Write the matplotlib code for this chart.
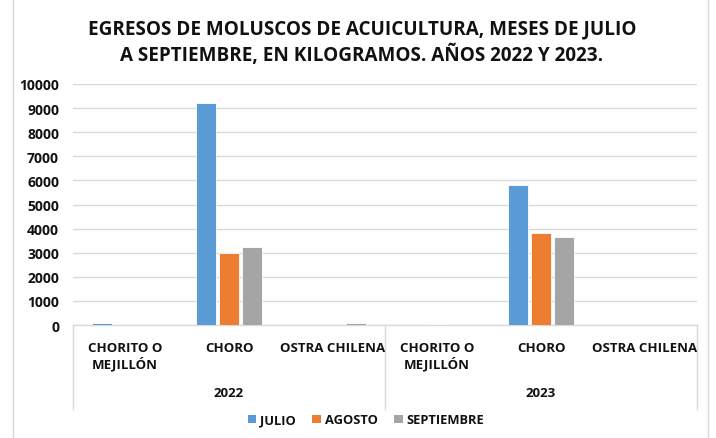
import matplotlib
matplotlib.use("Agg")
import matplotlib.pyplot as plt
import matplotlib.transforms as mtransforms
from matplotlib.patches import Patch
import numpy as np

plt.rcParams['font.family'] = ['Open Sans', 'DejaVu Sans']

title = "EGRESOS DE MOLUSCOS DE ACUICULTURA, MESES DE JULIO\nA SEPTIEMBRE, EN KILOGRAMOS. AÑOS 2022 Y 2023."
years = ["2022", "2023"]
species = ["CHORITO O\nMEJILLÓN", "CHORO", "OSTRA CHILENA"]
series_names = ["JULIO", "AGOSTO", "SEPTIEMBRE"]
julio = [80, 9200, 0, 0, 5820, 0]
agosto = [0, 2980, 20, 40, 3820, 0]
septiembre = [0, 3230, 70, 0, 3660, 0]
yticks = [0, 1000, 2000, 3000, 4000, 5000, 6000, 7000, 8000, 9000, 10000]
colors = ["#5B9BD5", "#ED7D31", "#A5A5A5"]

W, H = 716, 439
fig = plt.figure(figsize=(W / 100, H / 100), dpi=100)
def fy(p):
    return 1 - p / H

ax_left, ax_right, ax_top, ax_bot = 73, 697, 85, 326
ax = fig.add_axes([ax_left / W, fy(ax_bot), (ax_right - ax_left) / W, (ax_bot - ax_top) / H])

n = len(years) * len(species)
x = np.arange(n)
offs = [-0.222, 0.0, 0.222]
bw = 0.19
for vals, off, c, name in zip([julio, agosto, septiembre], offs, colors, series_names):
    ax.bar(x + off, vals, width=bw, color=c, edgecolor="white", linewidth=0.6, label=name, zorder=3)

ax.set_xlim(-0.5, n - 0.5)
ax.set_ylim(0, 10000)
ax.set_yticks(yticks)
ax.set_yticklabels([str(v) for v in yticks], fontsize=10, fontweight="bold", color="#111111")
ax.tick_params(axis="y", length=0, pad=10)
ax.set_xticks([])
ax.grid(axis="y", color="#d9d9d9", linewidth=1, zorder=0)
for s in ["top", "right", "left"]:
    ax.spines[s].set_visible(False)
ax.spines["bottom"].set_color("#d9d9d9")
ax.spines["bottom"].set_linewidth(1)

tr = mtransforms.blended_transform_factory(ax.transData, fig.transFigure)
for xs in [-0.5, 2.5, 5.5]:
    fig.add_artist(plt.Line2D([xs, xs], [fy(326), fy(410)], transform=tr, color="#d9d9d9", linewidth=1))

labels = species * len(years)
for i, lab in enumerate(labels):
    fig.text(i, fy(342), lab, transform=tr, ha="center", va="top", fontsize=9.5,
             fontweight="bold", color="#111111", linespacing=1.15)
for j, yr in enumerate(years):
    fig.text(j * 3 + 1, fy(394), yr, transform=tr, ha="center", va="center", fontsize=9.5,
             fontweight="bold", color="#111111")

fig.text(362 / W, fy(43), title, ha="center", va="center", fontsize=13.6, fontweight="bold",
         color="#111111", linespacing=1.3)

handles = [Patch(facecolor=c, edgecolor="none") for c in colors]
fig.legend(handles, series_names, loc="center", bbox_to_anchor=(366 / W, fy(421)), ncol=3,
           frameon=False, prop={"weight": "bold", "size": 9.3}, handlelength=0.65, handleheight=0.65,
           handletextpad=0.3, columnspacing=1.3, labelcolor="#111111")

for xb in [13, 708]:
    fig.add_artist(plt.Line2D([xb / W, xb / W], [0, 1], transform=fig.transFigure, color="#d9d9d9", linewidth=1))

fig.savefig("out.png", dpi=100)
